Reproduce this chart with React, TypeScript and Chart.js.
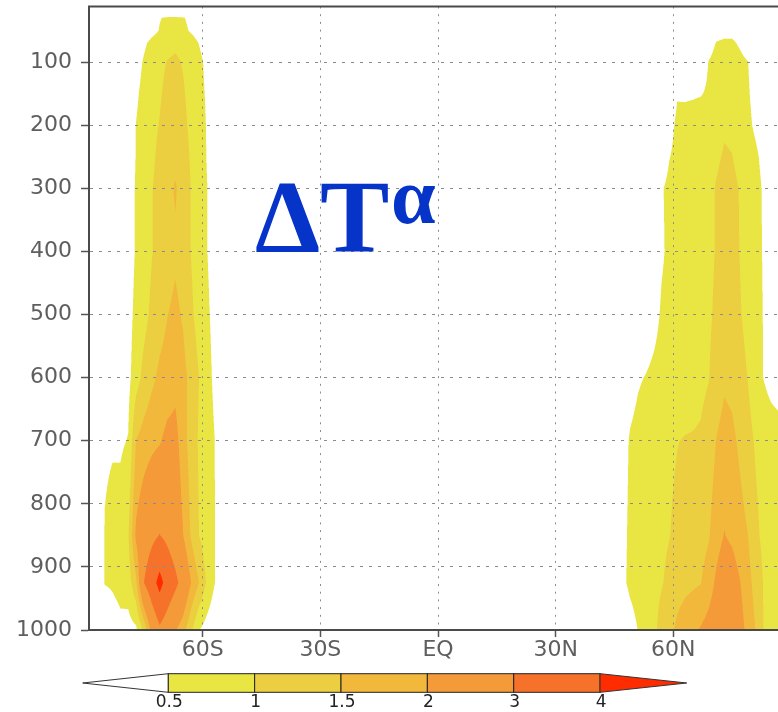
import React, { useEffect, useRef } from 'react';
import { Chart, registerables } from 'chart.js';

Chart.register(...registerables);

// Pressure levels (hPa), rows of the fields below
const levels = [1000, 925, 850, 700, 600, 500, 400, 300, 250, 200, 150, 100, 70, 50, 30, 20, 10];

// Southern high-latitude columns
const southLats = [-89, -87, -85, -83, -81, -79, -77, -75, -73, -71, -69, -67, -65, -63, -61, -59, -57, -55, -53];
const southField = [
  [0, 0, 0.1, 0.3, 0.4, 0.3, 0.4, 1.1, 2.2, 2.85, 2.5, 2.05, 1.7, 1.1, 0.52, 0.3, 0.1, 0, 0],
  [0, 0, 0.52, 0.55, 0.62, 0.75, 1.4, 3.0, 3.6, 4.3, 3.65, 3.2, 2.7, 2.01, 1.51, 0.95, 0.52, 0.2, 0],
  [0, 0, 0.52, 0.6, 0.7, 0.95, 2.1, 2.5, 2.8, 3.02, 2.8, 2.5, 2.01, 1.45, 1.01, 0.75, 0.52, 0.2, 0],
  [0, 0, 0.45, 0.47, 0.44, 0.52, 1.51, 1.7, 1.85, 1.95, 2.15, 2.2, 1.7, 1.3, 0.95, 0.75, 0.51, 0.2, 0],
  [0, 0, 0.1, 0.15, 0.25, 0.35, 0.8, 1.15, 1.4, 1.6, 1.7, 1.82, 1.65, 1.35, 1.01, 0.7, 0.4, 0.1, 0],
  [0, 0, 0, 0.05, 0.15, 0.3, 0.65, 0.85, 1.1, 1.3, 1.49, 1.6, 1.45, 1.1, 0.8, 0.6, 0.35, 0.1, 0],
  [0, 0, 0, 0, 0.1, 0.25, 0.55, 0.75, 0.98, 1.15, 1.3, 1.42, 1.3, 0.99, 0.75, 0.52, 0.3, 0.1, 0],
  [0, 0, 0, 0, 0.1, 0.25, 0.55, 0.75, 0.98, 1.15, 1.35, 1.55, 1.3, 0.99, 0.75, 0.52, 0.3, 0.1, 0],
  [0, 0, 0, 0, 0.05, 0.2, 0.52, 0.72, 0.92, 1.1, 1.25, 1.36, 1.2, 0.95, 0.72, 0.49, 0.25, 0.05, 0],
  [0, 0, 0, 0, 0.05, 0.2, 0.51, 0.7, 0.88, 1.02, 1.2, 1.25, 1.12, 0.9, 0.7, 0.48, 0.2, 0.05, 0],
  [0, 0, 0, 0, 0, 0.15, 0.42, 0.65, 0.82, 0.95, 1.12, 1.15, 1.05, 0.85, 0.65, 0.45, 0.15, 0, 0],
  [0, 0, 0, 0, 0, 0.1, 0.3, 0.55, 0.75, 0.9, 1.02, 1.08, 0.97, 0.8, 0.62, 0.4, 0.1, 0, 0],
  [0, 0, 0, 0, 0, 0, 0.2, 0.42, 0.62, 0.75, 0.85, 0.91, 0.85, 0.7, 0.49, 0.3, 0.05, 0, 0],
  [0, 0, 0, 0, 0, 0, 0.05, 0.2, 0.35, 0.52, 0.62, 0.66, 0.6, 0.45, 0.3, 0.1, 0, 0, 0],
  [0, 0, 0, 0, 0, 0, 0, 0.05, 0.3, 0.48, 0.55, 0.56, 0.53, 0.4, 0.2, 0.05, 0, 0, 0],
  [0, 0, 0, 0, 0, 0, 0, 0, 0.05, 0.1, 0.12, 0.12, 0.1, 0.05, 0, 0, 0, 0, 0],
  [0, 0, 0, 0, 0, 0, 0, 0, 0, 0, 0, 0, 0, 0, 0, 0, 0, 0, 0],
];

// Northern high-latitude columns
const northLats = [45, 47, 49, 51, 53, 55, 57, 59, 61, 63, 65, 67, 69, 71, 73, 75, 77, 79, 81, 83, 85, 87, 89];
const northField = [
  [0, 0.1, 0.3, 0.51, 0.7, 0.9, 1.15, 1.35, 1.6, 1.75, 1.9, 2.05, 2.2, 2.35, 2.5, 2.45, 2.2, 1.85, 1.49, 0.99, 0.8, 0.6, 0.55],
  [0, 0.4, 0.6, 0.7, 0.8, 0.88, 0.97, 1.1, 1.3, 1.38, 1.42, 1.48, 1.75, 2.1, 2.35, 2.3, 2.02, 1.7, 1.3, 0.98, 0.85, 0.7, 0.6],
  [0, 0.35, 0.6, 0.7, 0.78, 0.85, 0.92, 0.99, 1.08, 1.15, 1.22, 1.3, 1.45, 1.8, 2.02, 1.9, 1.7, 1.51, 1.1, 0.9, 0.8, 0.7, 0.6],
  [0, 0.3, 0.55, 0.65, 0.75, 0.82, 0.88, 0.94, 0.99, 1.02, 1.03, 1.05, 1.2, 1.52, 1.7, 1.62, 1.4, 1.15, 0.95, 0.85, 0.8, 0.75, 0.7],
  [0, 0.1, 0.3, 0.45, 0.52, 0.6, 0.66, 0.72, 0.76, 0.8, 0.84, 0.9, 0.98, 1.2, 1.41, 1.35, 1.15, 0.99, 0.75, 0.49, 0.3, 0.2, 0.15],
  [0, 0, 0.05, 0.1, 0.2, 0.35, 0.55, 0.62, 0.68, 0.72, 0.78, 0.85, 0.93, 1.08, 1.25, 1.2, 1.03, 0.88, 0.7, 0.48, 0.3, 0.2, 0.1],
  [0, 0, 0, 0.05, 0.1, 0.25, 0.45, 0.58, 0.65, 0.7, 0.75, 0.82, 0.9, 1.03, 1.15, 1.12, 0.99, 0.85, 0.68, 0.46, 0.28, 0.15, 0.1],
  [0, 0, 0, 0.05, 0.1, 0.25, 0.47, 0.58, 0.64, 0.7, 0.75, 0.82, 0.9, 1.03, 1.12, 1.1, 0.98, 0.82, 0.65, 0.45, 0.25, 0.12, 0.05],
  [0, 0, 0, 0, 0.05, 0.15, 0.3, 0.49, 0.58, 0.63, 0.68, 0.74, 0.82, 0.94, 1.04, 1.01, 0.88, 0.75, 0.58, 0.38, 0.2, 0.1, 0.05],
  [0, 0, 0, 0, 0, 0.1, 0.2, 0.4, 0.56, 0.58, 0.62, 0.68, 0.75, 0.85, 0.95, 0.92, 0.8, 0.6, 0.42, 0.25, 0.1, 0.05, 0],
  [0, 0, 0, 0, 0, 0, 0.1, 0.3, 0.48, 0.47, 0.47, 0.48, 0.55, 0.7, 0.82, 0.8, 0.7, 0.55, 0.35, 0.2, 0.05, 0, 0],
  [0, 0, 0, 0, 0, 0, 0, 0.05, 0.15, 0.2, 0.25, 0.3, 0.51, 0.62, 0.7, 0.68, 0.6, 0.51, 0.3, 0.1, 0, 0, 0],
  [0, 0, 0, 0, 0, 0, 0, 0, 0, 0, 0.05, 0.15, 0.35, 0.52, 0.56, 0.56, 0.45, 0.3, 0.1, 0, 0, 0, 0],
  [0, 0, 0, 0, 0, 0, 0, 0, 0, 0, 0, 0.05, 0.2, 0.35, 0.39, 0.39, 0.3, 0.15, 0, 0, 0, 0, 0],
  [0, 0, 0, 0, 0, 0, 0, 0, 0, 0, 0, 0, 0.05, 0.1, 0.1, 0.1, 0.05, 0, 0, 0, 0, 0, 0],
  [0, 0, 0, 0, 0, 0, 0, 0, 0, 0, 0, 0, 0, 0, 0, 0, 0, 0, 0, 0, 0, 0, 0],
  [0, 0, 0, 0, 0, 0, 0, 0, 0, 0, 0, 0, 0, 0, 0, 0, 0, 0, 0, 0, 0, 0, 0],
];

const contourLevels = [0.5, 1, 1.5, 2, 3, 4];
const contourColors = ['#e9e644', '#ebcf41', '#f1b83c', '#f49a38', '#f6722a', '#ff2c00'];
const colorbarLabels = ['0.5', '1', '1.5', '2', '3', '4'];

const yTicks = [100, 200, 300, 400, 500, 600, 700, 800, 900, 1000];
const xTickValues = [-60, -30, 0, 30, 60];
const xTickLabels = ['60S', '30S', 'EQ', '30N', '60N'];
const titleMain = ['\u0394', 'T'];
const titleSup = '\u03b1';

const TICK_FONT = { family: '"DejaVu Sans", sans-serif', size: 22 };
const TICK_COLOR = '#5e5e5e';
const FRAME_COLOR = '#4a4a4a';

function hexToRgb(h: string) {
  const n = parseInt(h.slice(1), 16);
  return [(n >> 16) & 255, (n >> 8) & 255, n & 255];
}

const contourPlugin = {
  id: 'contourFill',
  beforeDraw(chart: any) {
    const { ctx, chartArea, scales } = chart;
    const xs = scales.x;
    const ys = scales.y;
    const lats = southLats.concat(northLats);
    const field = levels.map((_, k) => southField[k].concat(northField[k]));
    const rgb = [[255, 255, 255]].concat(contourColors.map(hexToRgb));
    const left = Math.floor(chartArea.left);
    const top = Math.floor(chartArea.top);
    const w = Math.ceil(chartArea.right) - left;
    const h = Math.ceil(chartArea.bottom) - top;
    const SS = 3;
    const nx = w * SS;
    const ny = h * SS;
    const ci = new Int32Array(nx);
    const cf = new Float32Array(nx);
    for (let i = 0; i < nx; i++) {
      const v = xs.getValueForPixel(left + (i + 0.5) / SS);
      let j = 0;
      if (v <= lats[0]) { ci[i] = 0; cf[i] = 0; continue; }
      if (v >= lats[lats.length - 1]) { ci[i] = lats.length - 2; cf[i] = 1; continue; }
      while (j < lats.length - 2 && lats[j + 1] < v) j++;
      ci[i] = j;
      cf[i] = (v - lats[j]) / (lats[j + 1] - lats[j]);
    }
    const ri = new Int32Array(ny);
    const rf = new Float32Array(ny);
    for (let i = 0; i < ny; i++) {
      const p = ys.getValueForPixel(top + (i + 0.5) / SS);
      if (p >= levels[0]) { ri[i] = 0; rf[i] = 0; continue; }
      if (p <= levels[levels.length - 1]) { ri[i] = levels.length - 2; rf[i] = 1; continue; }
      let k = 0;
      while (k < levels.length - 2 && levels[k + 1] > p) k++;
      ri[i] = k;
      rf[i] = (levels[k] - p) / (levels[k] - levels[k + 1]);
    }
    const img = ctx.createImageData(w, h);
    const d = img.data;
    const n2 = SS * SS;
    for (let py = 0; py < h; py++) {
      for (let px = 0; px < w; px++) {
        let r = 0, g = 0, b = 0;
        for (let sy = 0; sy < SS; sy++) {
          const yy = py * SS + sy;
          const k = ri[yy];
          const fy = rf[yy];
          const row0 = field[k];
          const row1 = field[k + 1];
          for (let sx = 0; sx < SS; sx++) {
            const xx = px * SS + sx;
            const j = ci[xx];
            const fx = cf[xx];
            const v =
              row0[j] * (1 - fx) * (1 - fy) +
              row0[j + 1] * fx * (1 - fy) +
              row1[j] * (1 - fx) * fy +
              row1[j + 1] * fx * fy;
            let idx = 0;
            while (idx < contourLevels.length && v >= contourLevels[idx]) idx++;
            const c = rgb[idx];
            r += c[0]; g += c[1]; b += c[2];
          }
        }
        const o = (py * w + px) * 4;
        d[o] = r / n2; d[o + 1] = g / n2; d[o + 2] = b / n2; d[o + 3] = 255;
      }
    }
    ctx.putImageData(img, left, top);
  },
  afterDraw(chart: any) {
    const { ctx, chartArea } = chart;
    ctx.save();
    // top / right frame lines
    ctx.strokeStyle = FRAME_COLOR;
    ctx.lineWidth = 2;
    ctx.beginPath();
    ctx.moveTo(chartArea.left - 1, chartArea.top);
    ctx.lineTo(chartArea.right, chartArea.top);
    ctx.lineTo(chartArea.right, chartArea.bottom);
    ctx.stroke();

    // title annotation
    ctx.fillStyle = '#0634c8';
    ctx.textBaseline = 'alphabetic';
    ctx.textAlign = 'left';
    ctx.font = 'bold 104px "Liberation Serif", serif';
    ctx.fillText(titleMain[0], 255, 252);
    ctx.fillText(titleMain[1], 320, 252);
    ctx.font = 'bold 80px "Liberation Serif", serif';
    ctx.fillText(titleSup, 391, 223);

    // colour bar
    const x0 = 168.3, bw = 86.35, top = 673.7, bh = 18.6;
    const leftTip = 82.7, rightTip = 686.7;
    const nBoxes = contourLevels.length - 1;
    const xEnd = x0 + nBoxes * bw;
    ctx.lineWidth = 1;
    ctx.strokeStyle = '#333';
    ctx.beginPath();
    ctx.moveTo(x0, top);
    ctx.lineTo(leftTip, top + bh / 2);
    ctx.lineTo(x0, top + bh);
    ctx.closePath();
    ctx.fillStyle = '#ffffff';
    ctx.fill();
    ctx.stroke();
    for (let i = 0; i < nBoxes; i++) {
      ctx.fillStyle = contourColors[i];
      ctx.fillRect(x0 + i * bw, top, bw, bh);
      ctx.strokeStyle = '#222';
      ctx.strokeRect(x0 + i * bw, top, bw, bh);
    }
    ctx.beginPath();
    ctx.moveTo(xEnd, top);
    ctx.lineTo(rightTip, top + bh / 2);
    ctx.lineTo(xEnd, top + bh);
    ctx.closePath();
    ctx.fillStyle = contourColors[contourColors.length - 1];
    ctx.fill();
    ctx.strokeStyle = '#333';
    ctx.stroke();
    ctx.fillStyle = '#222';
    ctx.font = '17px "DejaVu Sans", sans-serif';
    ctx.textAlign = 'center';
    ctx.textBaseline = 'middle';
    colorbarLabels.forEach((lab, i) => {
      ctx.fillText(lab, x0 + i * bw + 1, 703);
    });
    ctx.restore();
  },
};

export default function App() {
  const ref = useRef<HTMLCanvasElement | null>(null);
  useEffect(() => {
    if (!ref.current) return;
    const chart = new Chart(ref.current, {
      type: 'scatter',
      data: { datasets: [{ data: [] }] },
      plugins: [contourPlugin],
      options: {
        animation: false,
        responsive: false,
        devicePixelRatio: 1,
        layout: { padding: { left: 0, top: 6.5, right: 13, bottom: 0 } },
        plugins: { legend: { display: false }, tooltip: { enabled: false } },
        scales: {
          x: {
            type: 'linear',
            min: -89,
            max: 89,
            afterBuildTicks: (s: any) => {
              s.ticks = xTickValues.map((v) => ({ value: v }));
            },
            afterFit: (s: any) => {
              s.height = 82;
              s.paddingLeft = 0;
              s.paddingRight = 0;
            },
            ticks: {
              autoSkip: false,
              maxRotation: 0,
              padding: 0,
              color: TICK_COLOR,
              font: TICK_FONT,
              callback: (v: any) => xTickLabels[xTickValues.indexOf(Number(v))],
            },
            grid: {
              color: '#8c8c8c',
              lineWidth: 1,
              tickLength: 7,
              tickColor: '#555',
              tickWidth: 1.5,
              tickBorderDash: [],
            },
            border: { display: true, color: FRAME_COLOR, width: 2, dash: [2, 5.7] },
          },
          y: {
            type: 'linear',
            reverse: true,
            min: 12,
            max: 1000,
            afterBuildTicks: (s: any) => {
              s.ticks = yTicks.map((v) => ({ value: v }));
            },
            afterFit: (s: any) => {
              s.width = 89;
              s.paddingTop = 0;
              s.paddingBottom = 0;
            },
            ticks: {
              padding: 9,
              color: TICK_COLOR,
              font: TICK_FONT,
              callback: (v: any) => String(v),
            },
            grid: {
              color: '#8c8c8c',
              lineWidth: 1,
              tickLength: 8,
              tickColor: '#555',
              tickWidth: 1.5,
              tickBorderDash: [],
            },
            border: { display: true, color: FRAME_COLOR, width: 2, dash: [3, 6] },
          },
        },
      },
    } as any);
    return () => chart.destroy();
  }, []);
  return (
    <div
      style={{
        position: 'fixed',
        left: 0,
        top: 0,
        width: 778,
        height: 712,
        overflow: 'hidden',
        background: '#ffffff',
      }}
    >
      <canvas ref={ref} width={800} height={712} style={{ display: 'block' }} />
    </div>
  );
}
